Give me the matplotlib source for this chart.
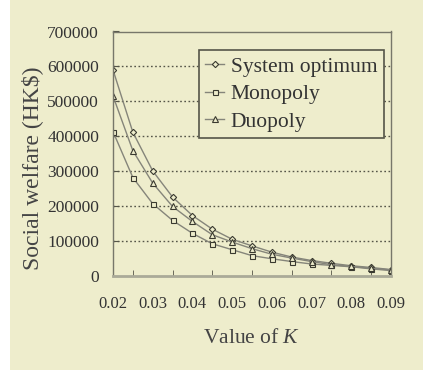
import matplotlib
matplotlib.use("Agg")
import matplotlib.pyplot as plt
from matplotlib.patches import Rectangle

k_values = [0.02, 0.025, 0.03, 0.035, 0.04, 0.045, 0.05, 0.055,
            0.06, 0.065, 0.07, 0.075, 0.08, 0.085, 0.09]
system_optimum = [590000, 411000, 300000, 225000, 172000, 133000, 104000, 85000,
                  67000, 53000, 43000, 35000, 28000, 23000, 17000]
monopoly = [413000, 281000, 206000, 158000, 121000, 91000, 74000, 57000,
            48000, 40000, 33000, 29000, 25000, 19000, 14000]
duopoly = [515000, 358000, 265000, 198000, 155000, 117000, 96000, 77000,
           61000, 50000, 40000, 31000, 26000, 21000, 16000]
x_ticks = [0.02, 0.03, 0.04, 0.05, 0.06, 0.07, 0.08, 0.09]
y_ticks = [0, 100000, 200000, 300000, 400000, 500000, 600000, 700000]

BG = "#EEEDCC"
plt.rcParams["font.family"] = ["Liberation Serif", "DejaVu Serif"]
plt.rcParams["mathtext.fontset"] = "custom"
plt.rcParams["mathtext.it"] = "Liberation Serif:italic"
plt.rcParams["mathtext.rm"] = "Liberation Serif"

W, H = 423, 370
fig = plt.figure(figsize=(W / 100, H / 100), dpi=100, facecolor=BG)
fig.patches.append(Rectangle((0, 0), 10 / W, 1, transform=fig.transFigure,
                             facecolor="white", edgecolor="none", zorder=-1))

left, right, top, bottom = 113, 391, 31.5, 275.5
ax = fig.add_axes([left / W, 1 - bottom / H, (right - left) / W, (bottom - top) / H])
ax.set_facecolor(BG)

line_kw = dict(color="#85857a", lw=1.0, markerfacecolor=BG,
               markeredgecolor="#3a3a30", markeredgewidth=0.8)
ax.plot(k_values, system_optimum, marker="D", markersize=3.2, label="System optimum", **line_kw)
ax.plot(k_values, monopoly, marker="s", markersize=3.6, label="Monopoly", **line_kw)
ax.plot(k_values, duopoly, marker="^", markersize=3.8, label="Duopoly", **line_kw)

ax.set_xlim(0.02, 0.09)
ax.set_ylim(0, 700000)
ax.set_xticks(x_ticks)
ax.set_xticklabels([f"{v:.2f}" for v in x_ticks])
ax.set_xticks(k_values, minor=True)
ax.set_yticks(y_ticks)
ax.set_yticklabels([str(v) for v in y_ticks])

for y in y_ticks[1:-1]:
    ax.axhline(y, color="#555548", lw=1.0, ls=(0, (1.2, 1.8)), zorder=0)

for s in ax.spines.values():
    s.set_color("#77776a")
    s.set_linewidth(1.0)
ax.spines["bottom"].set_color("#aaaa98")
ax.spines["bottom"].set_linewidth(2.0)

ax.tick_params(axis="x", which="both", direction="in", length=4, color="#555548",
               labelsize=12, pad=15, labelcolor="#333")
ax.tick_params(axis="x", which="major", length=0)
ax.tick_params(axis="y", direction="in", length=4, color="#555548",
               labelsize=12.5, pad=10, labelcolor="#333")

fig.text(32 / W, 1 - 168 / H, "Social welfare (HK$)", rotation=90, fontsize=17,
         color="#444", ha="center", va="center")
ax.set_xlabel("Value of $K$", fontsize=15.5, color="#444", labelpad=12)

leg = ax.legend(loc="upper right", bbox_to_anchor=(384 / W, 1 - 50 / H),
                bbox_transform=fig.transFigure, fontsize=15.5, frameon=True,
                fancybox=False, edgecolor="#555548", facecolor=BG, framealpha=1,
                handlelength=0.9, handletextpad=0.3, borderpad=0.3, labelspacing=0.35,
                borderaxespad=0)
leg.get_frame().set_linewidth(1.2)
for t in leg.get_texts():
    t.set_color("#333")

fig.savefig("out.png", dpi=100, facecolor=BG)
